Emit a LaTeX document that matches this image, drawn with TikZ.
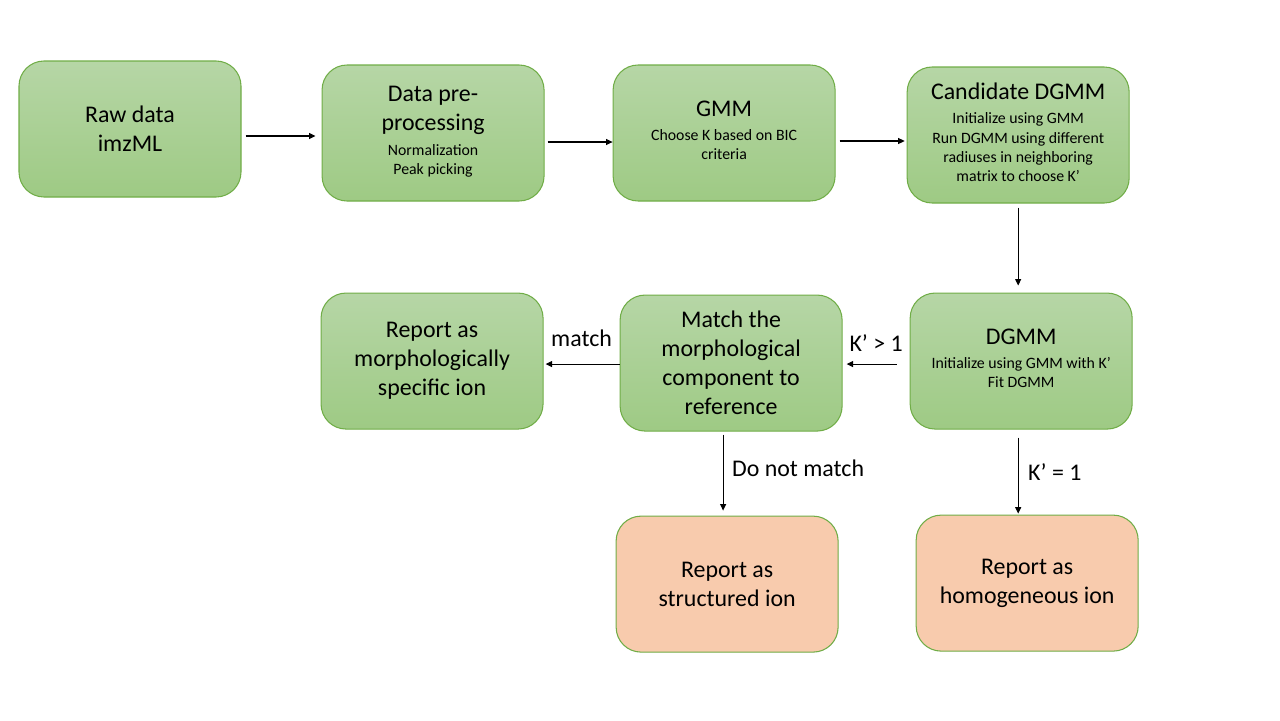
\documentclass[tikz,border=0pt]{standalone}
\usepackage{fontspec}
\setmainfont{Carlito}
\usepackage{tikz}
\usetikzlibrary{arrows.meta, positioning}

\definecolor{boxtop}{RGB}{182,214,166}
\definecolor{boxbot}{RGB}{158,202,132}
\definecolor{boxline}{RGB}{112,173,71}
\definecolor{outfill}{RGB}{248,203,173}

\newcommand{\bigtxt}{\fontsize{13.6pt}{16.5pt}\selectfont}
\newcommand{\details}[1]{{\fontsize{9pt}{10.9pt}\selectfont\begin{tabular}[t]{@{}c@{}}#1\end{tabular}}}

\begin{document}
\begin{tikzpicture}[
  >={Triangle[length=0.13cm, width=0.12cm]}, line width=0.6pt,
  stage/.style = {draw=boxline, line width=0.6pt, rounded corners=0.5cm,
                 top color=boxtop, bottom color=boxbot, align=center,
                 minimum width=4.44cm, minimum height=2.72cm, font=\bigtxt},
  result/.style = {stage, fill=outfill, top color=outfill, bottom color=outfill},
  lbl/.style = {font=\bigtxt, inner sep=2pt},
]
  \useasboundingbox (0,0) rectangle (25.6,-14.4);

  \node[stage] (raw) at (2.60,-2.58) {Raw data\\imzML};
  \node[stage, right=1.60cm of raw, yshift=-0.08cm] (pre)
    {Data pre-\\processing\\[-2.5pt]\details{Normalization\\Peak picking}};
  \node[stage, right=1.36cm of pre] (gmm)
    {GMM\\[-2.5pt]\details{Choose K based on BIC\\criteria}};
  \node[stage, right=1.42cm of gmm, yshift=-0.04cm] (cand)
    {Candidate DGMM\\[-2.5pt]\details{Initialize using GMM\\Run DGMM using different\\radiuses in neighboring\\matrix to choose K’}};
  \node[stage, below=1.78cm of cand, xshift=0.06cm] (dgmm)
    {DGMM\\[-2.5pt]\details{Initialize using GMM with K’\\Fit DGMM}};
  \node[stage, left=1.34cm of dgmm, yshift=-0.04cm] (match)
    {Match the\\morphological\\component to\\reference};
  \node[stage, left=1.52cm of match, yshift=0.04cm] (spec)
    {Report as\\morphologically\\specific ion};
  \node[result, below=1.68cm of match, xshift=-0.08cm] (struct)
    {Report as\\structured ion};
  \node[result, below=1.70cm of dgmm, xshift=0.12cm] (homog)
    {Report as\\homogeneous ion};

  % top row
  \draw[->, shorten <=0.08cm, shorten >=0.12cm]
    ([yshift=-0.14cm]raw.east) -- ([yshift=-0.14cm]raw.east -| pre.west);
  \draw[->, shorten <=0.06cm]
    ([yshift=-0.18cm]pre.east) -- ([yshift=-0.18cm]pre.east -| gmm.west);
  \draw[->, shorten <=0.08cm, shorten >=0.04cm]
    ([yshift=-0.16cm]gmm.east) -- ([yshift=-0.16cm]gmm.east -| cand.west);
  \draw[->, shorten <=0.08cm, shorten >=0.14cm] (cand.south) -- (cand.south |- dgmm.north);

  % second row
  \draw[->, shorten <=0.26cm, shorten >=0.08cm]
    ([yshift=-0.06cm]dgmm.west) -- node[lbl, above=0.18cm]{K’ > 1} ([yshift=-0.06cm]dgmm.west -| match.east);
  \draw[->, shorten >=0.04cm]
    ([yshift=-0.02cm]match.west) -- node[lbl, above=0.26cm]{match} ([yshift=-0.02cm]match.west -| spec.east);

  % down to results
  \draw[->, shorten <=0.06cm, shorten >=0.1cm]
    ([xshift=-0.16cm]match.south) -- node[lbl, right=0.1cm, pos=0.44]{Do not match} ([xshift=-0.16cm]match.south |- struct.north);
  \draw[->, shorten <=0.16cm, shorten >=0.02cm]
    ([xshift=-0.06cm]dgmm.south) -- node[lbl, right=0.12cm]{K’ = 1} ([xshift=-0.06cm]dgmm.south |- homog.north);
\end{tikzpicture}
\end{document}
